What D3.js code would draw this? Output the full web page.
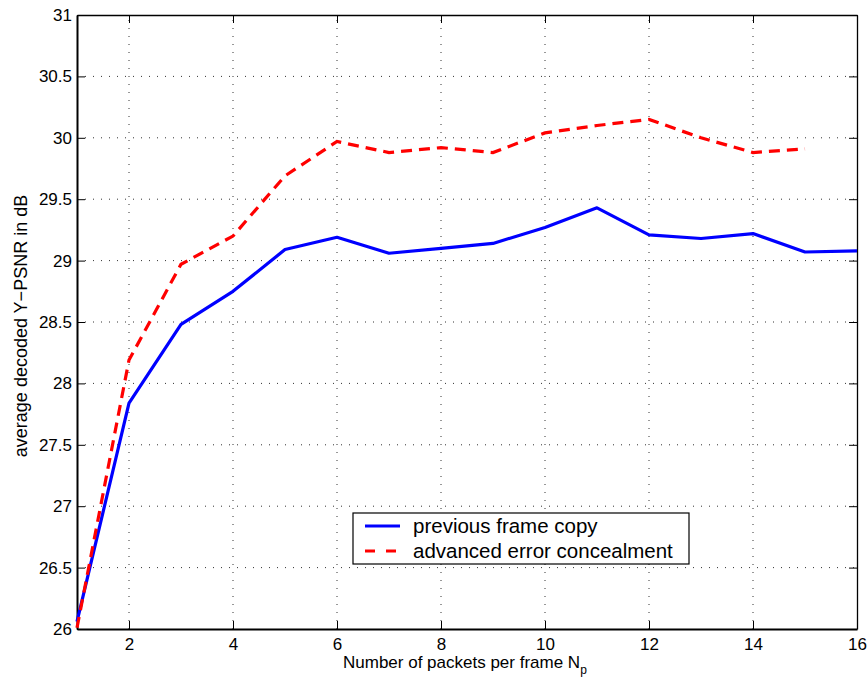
<!DOCTYPE html>
<html><head><meta charset="utf-8">
<script src="https://cdn.jsdelivr.net/npm/d3@7"></script>
<style>body{margin:0;background:#fff;} text{font-family:"Liberation Sans",Arial,sans-serif;fill:#000;}</style>
</head><body>
<svg id="c" width="867" height="677"></svg>
<script>
const xValues = [1,2,3,4,5,6,7,8,9,10,11,12,13,14,15,16];
const previousFrameCopy = [26.06,27.84,28.48,28.75,29.09,29.19,29.06,29.10,29.14,29.27,29.43,29.21,29.18,29.22,29.07,29.08];
const advancedConcealment = [26.01,28.19,28.97,29.20,29.69,29.97,29.88,29.92,29.88,30.04,30.10,30.15,30.00,29.88,29.91];
const xTicks = [2,4,6,8,10,12,14,16];
const yTicks = [26,26.5,27,27.5,28,28.5,29,29.5,30,30.5,31];
const seriesNames = ["previous frame copy","advanced error concealment"];

const L=77,R=857,T=15,B=629;
const svg=d3.select("#c");
const x=d3.scaleLinear().domain([1,16]).range([L,R]);
const y=d3.scaleLinear().domain([26,31]).range([B,T]);

// grid
const g=svg.append("g");
g.selectAll(".gy").data(yTicks.slice(1,-1)).join("line")
 .attr("x1",L).attr("x2",R).attr("y1",d=>y(d)).attr("y2",d=>y(d))
 .attr("stroke","#333").attr("stroke-width",1).attr("stroke-dasharray","1,7");
g.selectAll(".gx").data(xTicks.slice(0,-1)).join("line")
 .attr("y1",B).attr("y2",T).attr("x1",d=>x(d)).attr("x2",d=>x(d))
 .attr("stroke","#333").attr("stroke-width",1).attr("stroke-dasharray","1,7");

// axes
const fmt=d=>String(d);
const ax=svg.append("g").attr("transform",`translate(0,${B})`)
 .call(d3.axisBottom(x).tickValues(xTicks).tickFormat(fmt).tickSizeInner(-8).tickSizeOuter(0).tickPadding(9));
const ay=svg.append("g").attr("transform",`translate(${L},0)`)
 .call(d3.axisLeft(y).tickValues(yTicks).tickFormat(fmt).tickSizeInner(-8).tickSizeOuter(0).tickPadding(5));
const axTop=svg.append("g").attr("transform",`translate(0,${T})`)
 .call(d3.axisTop(x).tickValues(xTicks).tickFormat("").tickSizeInner(-8).tickSizeOuter(0));
const ayR=svg.append("g").attr("transform",`translate(${R},0)`)
 .call(d3.axisRight(y).tickValues(yTicks).tickFormat("").tickSizeInner(-8).tickSizeOuter(0));
[ax,ay,axTop,ayR].forEach(a=>{
  a.selectAll("path").attr("stroke","#000").attr("stroke-width",2);
  a.selectAll("line").attr("stroke","#000").attr("stroke-width",1);
  a.selectAll("text").attr("fill","#000").style("font-size","17px").style("font-family","Liberation Sans, Arial, sans-serif");
});
axTop.selectAll("path").attr("stroke-width",1.3);
ayR.selectAll("path").attr("stroke-width",1.3);

// lines
const line=d3.line().x((d,i)=>x(xValues[i])).y(d=>y(d));
svg.append("path").datum(previousFrameCopy).attr("d",line)
 .attr("fill","none").attr("stroke","#0000ff").attr("stroke-width",3.2).attr("stroke-linejoin","round");
svg.append("path").datum(advancedConcealment).attr("d",line)
 .attr("fill","none").attr("stroke","#ff0000").attr("stroke-width",3.2).attr("stroke-dasharray","11,7");

// labels
svg.append("text").attr("x",343).attr("y",668).style("font-size","17px")
 .text("Number of packets per frame N").append("tspan").attr("dy",6).style("font-size","12px").text("p");
svg.append("text").attr("transform",`translate(27,${(T+B)/2+4}) rotate(-90)`).attr("text-anchor","middle")
 .style("font-size","18px").text("average decoded Y\u2212PSNR in dB");

// legend
const lg=svg.append("g");
lg.append("rect").attr("x",353).attr("y",513).attr("width",336).attr("height",51)
 .attr("fill","#fff").attr("stroke","#000").attr("stroke-width",1.2);
const cols=["#0000ff","#ff0000"], dash=[null,"10,11"], ly=[526,551];
seriesNames.forEach((n,i)=>{
  lg.append("line").attr("x1",365).attr("x2",400).attr("y1",ly[i]).attr("y2",ly[i])
   .attr("stroke",cols[i]).attr("stroke-width",3.2).attr("stroke-dasharray",dash[i]);
  lg.append("text").attr("x",413).attr("y",ly[i]+7).style("font-size","20.5px").text(n);
});
</script>
</body></html>
